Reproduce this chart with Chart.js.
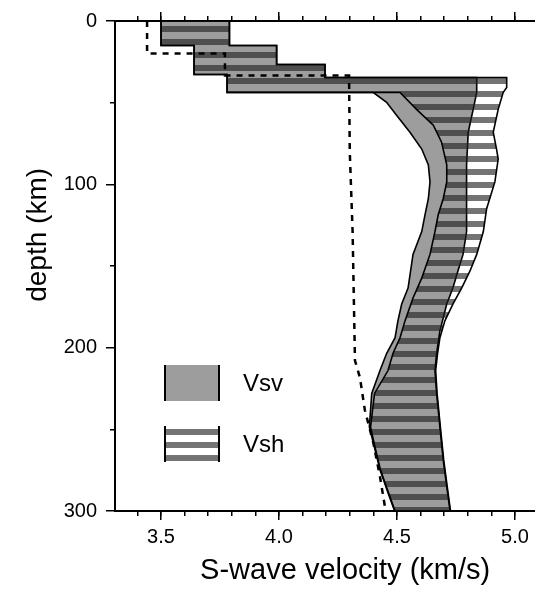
<!DOCTYPE html>
<html lang="en">
<head>
<meta charset="UTF-8">
<title>S-wave velocity profile</title>
<style>
  html, body { margin: 0; padding: 0; background: #fff; }
  canvas { display: block; }
</style>
</head>
<body>
<canvas id="profile" width="535" height="591"></canvas>
<script src="https://cdn.jsdelivr.net/npm/chart.js"></script>
<script>
// crust layers: lower and upper envelope (same for Vsv and Vsh)
const crustMinDepth = [0, 15, 15, 32.8, 32.8, 43.8];
const crustMinVel   = [3.50, 3.50, 3.64, 3.64, 3.78, 3.78];
const crustMaxDepth = [0, 15, 15, 26.6, 26.6, 34.6];
const crustMaxVel   = [3.79, 3.79, 3.99, 3.99, 4.195, 4.195];

// mantle, Vsv range
const vsvMinDepth = [43.8, 49.8, 57.8, 68.1, 78.4, 88.1, 98.5, 108.8, 118.5, 128.9, 142.9, 163.5, 173.3, 183.6, 193.9, 203.6, 214, 228, 248.6, 258.4, 274.8, 288.8, 300];
const vsvMinVel   = [4.40, 4.456, 4.499, 4.555, 4.605, 4.633, 4.640, 4.633, 4.619, 4.605, 4.568, 4.547, 4.520, 4.504, 4.492, 4.456, 4.428, 4.393, 4.383, 4.400, 4.428, 4.462, 4.49];
const vsvMaxDepth = [34.6, 43.8, 54.1, 68.1, 88.1, 108.8, 128.9, 142.9, 153.2, 163.5, 173.3, 189.7, 203.6, 214, 228, 248.6, 268.7, 285.1, 300];
const vsvMaxVel   = [4.838, 4.838, 4.823, 4.802, 4.795, 4.795, 4.795, 4.780, 4.758, 4.737, 4.711, 4.682, 4.668, 4.661, 4.668, 4.682, 4.696, 4.711, 4.725];

// mantle, Vsh range
const vshMinDepth = [43.8, 54.1, 63.8, 74.2, 88.1, 98.5, 108.8, 118.5, 128.9, 142.9, 157.4, 169.6, 183.6, 193.9, 203.6, 214, 228, 248.6, 258.4, 274.8, 288.8, 300];
const vshMinVel   = [4.513, 4.583, 4.654, 4.689, 4.711, 4.711, 4.696, 4.675, 4.661, 4.640, 4.605, 4.568, 4.534, 4.513, 4.483, 4.462, 4.405, 4.388, 4.403, 4.430, 4.464, 4.492];
const vshMaxDepth = [34.6, 40.7, 43.8, 54.1, 68.1, 78.4, 84.5, 98.5, 114.9, 128.9, 142.9, 153.2, 163.5, 173.3, 183.6, 193.9, 203.6, 214, 228, 248.6, 268.7, 285.1, 300];
const vshMaxVel   = [4.965, 4.965, 4.950, 4.929, 4.908, 4.922, 4.929, 4.915, 4.880, 4.866, 4.838, 4.809, 4.774, 4.737, 4.703, 4.682, 4.672, 4.664, 4.670, 4.684, 4.698, 4.713, 4.727];

// reference (starting) model, dashed
const refDepth = [0, 19.9, 19.9, 33.4, 33.4, 80, 128.9, 207.9, 218.2, 238.3, 258.4, 279, 300];
const refVel   = [3.441, 3.441, 3.771, 3.771, 4.297, 4.300, 4.312, 4.322, 4.343, 4.364, 4.400, 4.428, 4.452];

// axes
const velMajorTicks = [3.5, 4.0, 4.5, 5.0];
const velMinorTicks = [3.4, 3.5, 3.6, 3.7, 3.8, 3.9, 4.0, 4.1, 4.2, 4.3, 4.4, 4.5, 4.6, 4.7, 4.8, 4.9, 5.0];
const depthMajorTicks = [0, 100, 200, 300];
const depthMinorTicks = [50, 150, 250];
const legendLabels = ['Vsv', 'Vsh'];

const FONT = '"Liberation Sans", Arial, Helvetica, sans-serif';
const GRAY = '#9d9d9d';

const canvas = document.getElementById('profile');
const ctx0 = canvas.getContext('2d');

// horizontal black/white stripes for Vsh
const stripeTile = document.createElement('canvas');
stripeTile.width = 8;
stripeTile.height = 13;
const st = stripeTile.getContext('2d');
st.fillStyle = 'rgba(30,30,30,0.62)';
st.fillRect(0, 0, 8, 6);
const STRIPES = ctx0.createPattern(stripeTile, 'repeat');

// closed outline: down the lower envelope, back up the upper one
function band(minDepth, minVel, maxDepth, maxVel) {
    const pts = [];
    crustMinDepth.forEach((d, i) => pts.push({ x: crustMinVel[i], y: d }));
    minDepth.forEach((d, i) => pts.push({ x: minVel[i], y: d }));
    for (let i = maxDepth.length - 1; i >= 0; i--) pts.push({ x: maxVel[i], y: maxDepth[i] });
    for (let i = crustMaxDepth.length - 1; i >= 0; i--) pts.push({ x: crustMaxVel[i], y: crustMaxDepth[i] });
    pts.push(pts[0]);
    return pts;
}

const refLine = refDepth.map((d, i) => ({ x: refVel[i], y: d }));

const setTicks = (list) => (scale) => { scale.ticks = list.map(v => ({ value: v })); };
const fixSize = (prop, size) => (scale) => { scale[prop] = size; };

// plot runs off the right edge of the picture
const xMin = 3.305, xMax = 5.085;

const tickLine = { drawOnChartArea: false, color: '#000', lineWidth: 1.5 };

// hand-drawn legend inside the plot
const boxLegend = {
    id: 'boxLegend',
    afterDatasetsDraw(chart) {
        const ctx = chart.ctx;
        const fills = [GRAY, STRIPES];
        const boxes = [[165, 365, 54, 36], [165, 426, 54, 36]];
        ctx.save();
        boxes.forEach((b, i) => {
            ctx.fillStyle = '#fff';
            ctx.fillRect(b[0], b[1], b[2], b[3]);
            ctx.fillStyle = fills[i];
            ctx.fillRect(b[0], b[1], b[2], b[3]);
            ctx.strokeStyle = '#000';
            ctx.lineWidth = 2;
            ctx.beginPath();
            ctx.moveTo(b[0], b[1]); ctx.lineTo(b[0], b[1] + b[3]);
            ctx.moveTo(b[0] + b[2], b[1]); ctx.lineTo(b[0] + b[2], b[1] + b[3]);
            ctx.stroke();
            ctx.fillStyle = '#000';
            ctx.font = '24px ' + FONT;
            ctx.textBaseline = 'middle';
            ctx.fillText(legendLabels[i], 243, b[1] + b[3] / 2 + 1);
        });
        ctx.restore();
    }
};

new Chart(canvas, {
    type: 'scatter',
    data: {
        datasets: [
            {
                label: 'Vsv',
                data: band(vsvMinDepth, vsvMinVel, vsvMaxDepth, vsvMaxVel),
                showLine: true,
                fill: 'shape',
                backgroundColor: GRAY,
                borderColor: '#000',
                borderWidth: 1.6,
                pointRadius: 0,
                tension: 0,
                order: 3
            },
            {
                label: 'Vsh',
                data: band(vshMinDepth, vshMinVel, vshMaxDepth, vshMaxVel),
                showLine: true,
                fill: 'shape',
                backgroundColor: STRIPES,
                borderColor: '#000',
                borderWidth: 1.6,
                pointRadius: 0,
                tension: 0,
                order: 2
            },
            {
                label: 'reference',
                data: refLine,
                showLine: true,
                fill: false,
                borderColor: '#000',
                borderWidth: 2.5,
                borderDash: [6, 6],
                pointRadius: 0,
                order: 1
            }
        ]
    },
    options: {
        responsive: false,
        animation: false,
        events: [],
        layout: { padding: 0 },
        plugins: { legend: { display: false }, tooltip: { enabled: false } },
        scales: {
            x: {
                type: 'linear', position: 'bottom', min: xMin, max: xMax, weight: 1,
                afterBuildTicks: setTicks(velMajorTicks),
                afterFit: fixSize('height', 80),
                border: { color: '#000', width: 2 },
                grid: { ...tickLine, tickLength: 9 },
                ticks: {
                    color: '#000', padding: 5, maxRotation: 0, autoSkip: false,
                    font: { family: FONT, size: 20 },
                    callback: (v) => Number(v).toFixed(1)
                },
                title: {
                    // leading spaces push the centred title right, as in the original
                    display: true, text: '     S-wave velocity (km/s)', color: '#000',
                    font: { family: FONT, size: 29 }, padding: { top: 0, bottom: 3 }
                }
            },
            xb: {
                type: 'linear', position: 'bottom', min: xMin, max: xMax, weight: 0,
                afterBuildTicks: setTicks(velMinorTicks),
                afterFit: fixSize('height', 0),
                border: { display: false },
                grid: { ...tickLine, tickLength: 5 },
                ticks: { display: false }
            },
            xt: {
                type: 'linear', position: 'top', min: xMin, max: xMax, weight: 1,
                afterBuildTicks: setTicks(velMajorTicks),
                afterFit: fixSize('height', 18),
                border: { color: '#000', width: 2 },
                grid: { ...tickLine, tickLength: 9 },
                ticks: { display: false }
            },
            xtm: {
                type: 'linear', position: 'top', min: xMin, max: xMax, weight: 0,
                afterBuildTicks: setTicks(velMinorTicks),
                afterFit: fixSize('height', 0),
                border: { display: false },
                grid: { ...tickLine, tickLength: 5 },
                ticks: { display: false }
            },
            y: {
                type: 'linear', position: 'left', reverse: true, min: 0, max: 300, weight: 1,
                afterBuildTicks: setTicks(depthMajorTicks),
                afterFit: fixSize('width', 115),
                border: { color: '#000', width: 2 },
                grid: { ...tickLine, tickLength: 9 },
                ticks: {
                    color: '#000', padding: 9, autoSkip: false,
                    font: { family: FONT, size: 20 }
                },
                title: {
                    // leading spaces lift the rotated title, as in the original
                    display: true, text: '        depth (km)', color: '#000',
                    font: { family: FONT, size: 28 }, padding: { top: 21, bottom: 0 }
                }
            },
            ym: {
                type: 'linear', position: 'left', reverse: true, min: 0, max: 300, weight: 0,
                afterBuildTicks: setTicks(depthMinorTicks),
                afterFit: fixSize('width', 0),
                border: { display: false },
                grid: { ...tickLine, tickLength: 5 },
                ticks: { display: false }
            }
        }
    },
    plugins: [boxLegend]
});
</script>
</body>
</html>
